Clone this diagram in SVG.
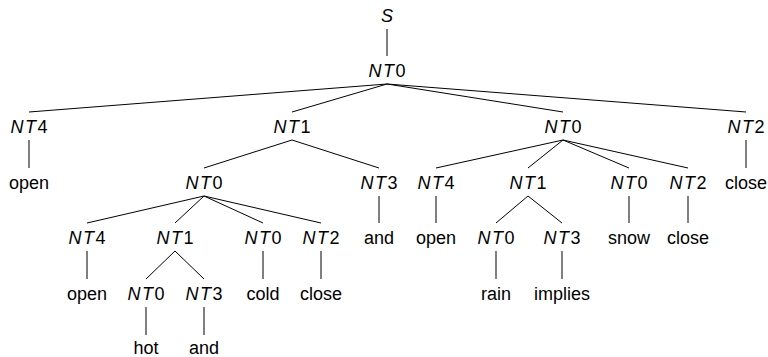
<svg xmlns="http://www.w3.org/2000/svg" width="768" height="357" viewBox="0 0 768 357">
  <style>
    text { font-family: "Liberation Sans", Arial, sans-serif; font-size: 18px; fill: #000; text-anchor: middle; }
    .it { font-style: italic; }
    .nt { font-style: italic; letter-spacing: 1.5px; }
    #edges line { stroke: #000; stroke-width: 1; stroke-linecap: butt; }
  </style>
  <rect width="768" height="357" fill="#fff"/>

  <!-- connectors -->
  <g id="edges">
    <line x1="387" y1="29" x2="387" y2="56"/>
    <line x1="387" y1="84" x2="29" y2="112"/>
    <line x1="387" y1="84" x2="292" y2="112"/>
    <line x1="387" y1="84" x2="563" y2="112"/>
    <line x1="387" y1="84" x2="746" y2="112"/>
    <line x1="29" y1="140" x2="29" y2="168"/>
    <line x1="292" y1="140" x2="204" y2="168"/>
    <line x1="292" y1="140" x2="379" y2="168"/>
    <line x1="563" y1="140" x2="436" y2="168"/>
    <line x1="563" y1="140" x2="528" y2="168"/>
    <line x1="563" y1="140" x2="629" y2="168"/>
    <line x1="563" y1="140" x2="688" y2="168"/>
    <line x1="746" y1="140" x2="746" y2="168"/>
    <line x1="204" y1="196" x2="87" y2="223"/>
    <line x1="204" y1="196" x2="175" y2="223"/>
    <line x1="204" y1="196" x2="263" y2="223"/>
    <line x1="204" y1="196" x2="321" y2="223"/>
    <line x1="379" y1="196" x2="379" y2="223"/>
    <line x1="436" y1="196" x2="436" y2="223"/>
    <line x1="528" y1="196" x2="496" y2="223"/>
    <line x1="528" y1="196" x2="562" y2="223"/>
    <line x1="629" y1="196" x2="629" y2="223"/>
    <line x1="688" y1="196" x2="688" y2="223"/>
    <line x1="87" y1="251" x2="87" y2="279"/>
    <line x1="175" y1="251" x2="146" y2="279"/>
    <line x1="175" y1="251" x2="204" y2="279"/>
    <line x1="263" y1="251" x2="263" y2="279"/>
    <line x1="321" y1="251" x2="321" y2="279"/>
    <line x1="496" y1="251" x2="496" y2="279"/>
    <line x1="562" y1="251" x2="562" y2="279"/>
    <line x1="146" y1="307" x2="146" y2="335"/>
    <line x1="204" y1="307" x2="204" y2="335"/>
  </g>

  <!-- nodes -->
  <g id="s"><text x="387" y="22" class="it">S</text></g>
  <g id="n0"><text x="387" y="77"><tspan class="nt">NT</tspan>0</text></g>
  <g id="n1"><text x="29" y="133"><tspan class="nt">NT</tspan>4</text></g>
  <g id="n2"><text x="292" y="133"><tspan class="nt">NT</tspan>1</text></g>
  <g id="n3"><text x="563" y="133"><tspan class="nt">NT</tspan>0</text></g>
  <g id="n4"><text x="746" y="133"><tspan class="nt">NT</tspan>2</text></g>
  <g id="n5"><text x="29" y="189">open</text></g>
  <g id="n6"><text x="204" y="189"><tspan class="nt">NT</tspan>0</text></g>
  <g id="n7"><text x="379" y="189"><tspan class="nt">NT</tspan>3</text></g>
  <g id="n8"><text x="436" y="189"><tspan class="nt">NT</tspan>4</text></g>
  <g id="n9"><text x="528" y="189"><tspan class="nt">NT</tspan>1</text></g>
  <g id="n10"><text x="629" y="189"><tspan class="nt">NT</tspan>0</text></g>
  <g id="n11"><text x="688" y="189"><tspan class="nt">NT</tspan>2</text></g>
  <g id="n12"><text x="746" y="189">close</text></g>
  <g id="n13"><text x="87" y="244"><tspan class="nt">NT</tspan>4</text></g>
  <g id="n14"><text x="175" y="244"><tspan class="nt">NT</tspan>1</text></g>
  <g id="n15"><text x="263" y="244"><tspan class="nt">NT</tspan>0</text></g>
  <g id="n16"><text x="321" y="244"><tspan class="nt">NT</tspan>2</text></g>
  <g id="n17"><text x="379" y="244">and</text></g>
  <g id="n18"><text x="436" y="244">open</text></g>
  <g id="n19"><text x="496" y="244"><tspan class="nt">NT</tspan>0</text></g>
  <g id="n20"><text x="562" y="244"><tspan class="nt">NT</tspan>3</text></g>
  <g id="n21"><text x="629" y="244">snow</text></g>
  <g id="n22"><text x="688" y="244">close</text></g>
  <g id="n23"><text x="87" y="300">open</text></g>
  <g id="n24"><text x="146" y="300"><tspan class="nt">NT</tspan>0</text></g>
  <g id="n25"><text x="204" y="300"><tspan class="nt">NT</tspan>3</text></g>
  <g id="n26"><text x="263" y="300">cold</text></g>
  <g id="n27"><text x="321" y="300">close</text></g>
  <g id="n28"><text x="496" y="300">rain</text></g>
  <g id="n29"><text x="562" y="300">implies</text></g>
  <g id="n30"><text x="146" y="354">hot</text></g>
  <g id="n31"><text x="204" y="354">and</text></g>
</svg>
